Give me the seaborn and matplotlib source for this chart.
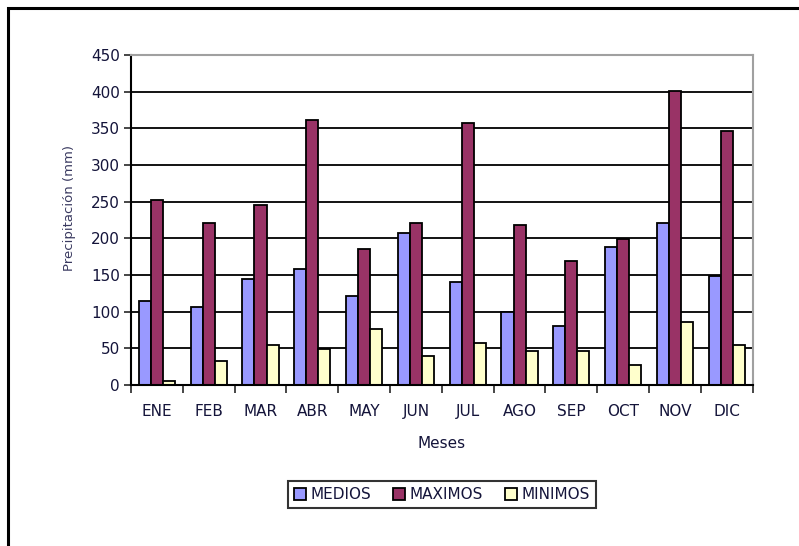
import pandas as pd
import numpy as np
import matplotlib
matplotlib.use("Agg")
import matplotlib.pyplot as plt
from matplotlib.patches import Rectangle
import seaborn as sns

MESES = ["ENE", "FEB", "MAR", "ABR", "MAY", "JUN", "JUL", "AGO", "SEP", "OCT", "NOV", "DIC"]
MEDIOS = [114, 106, 144, 158, 122, 207, 141, 100, 81, 188, 221, 148]
MAXIMOS = [253, 221, 245, 362, 185, 221, 357, 218, 169, 199, 401, 347]
MINIMOS = [5, 32, 54, 49, 76, 40, 57, 46, 46, 27, 86, 54]

SERIES = ["MEDIOS", "MAXIMOS", "MINIMOS"]
COLORES = ["#9999FF", "#993366", "#FFFFCC"]
TXT = "#14143a"

df = pd.DataFrame({
    "mes": MESES * 3,
    "valor": MEDIOS + MAXIMOS + MINIMOS,
    "serie": [s for s in SERIES for _ in MESES],
})

sns.set_style("white")
plt.rcParams["font.family"] = ["DejaVu Sans"]

fig = plt.figure(figsize=(7.99, 5.46), dpi=100)
ax = fig.add_axes([0.164, 0.295, 0.778, 0.604])

# grid first so bars sit on top
for y in range(50, 450, 50):
    ax.axhline(y, color="black", linewidth=1.3, zorder=0)

sns.barplot(data=df, x="mes", y="valor", hue="serie", palette=COLORES,
            edgecolor="black", linewidth=1.3, width=0.7, saturation=1,
            ax=ax, zorder=2)

ax.set_ylim(0, 450)
ax.set_xlim(-0.5, 11.5)
ax.set_yticks(range(0, 451, 50))
ax.tick_params(axis="y", direction="out", length=5, width=1.2, left=True,
               labelsize=11, pad=3, labelcolor=TXT)
ax.set_xticks(range(12))
ax.set_xticks(np.arange(-0.5, 12, 1), minor=True)
ax.tick_params(axis="x", which="major", length=0, labelsize=11, pad=14,
               labelcolor=TXT)
ax.tick_params(axis="x", which="minor", direction="out", length=6, width=1.2,
               bottom=True)

for side in ["left", "bottom"]:
    ax.spines[side].set_color("black")
    ax.spines[side].set_linewidth(1.5)
for side in ["top", "right"]:
    ax.spines[side].set_color("#a0a0a0")
    ax.spines[side].set_linewidth(1.5)

ax.set_xlabel("Meses", fontsize=11, color=TXT, labelpad=12)
ax.set_ylabel("Precipitación (mm)", fontsize=9.5, color="#3a3a60")
ax.yaxis.set_label_coords(-0.088, 0.535)

handles, labels = ax.get_legend_handles_labels()
ax.legend_.remove()
leg = fig.legend(handles, labels, loc="center", bbox_to_anchor=(0.553, 0.094),
                 ncol=3, frameon=True, fancybox=False, fontsize=11,
                 handlelength=0.8, handleheight=0.8, handletextpad=0.3,
                 columnspacing=1.4, borderpad=0.4, edgecolor="black")
leg.get_frame().set_linewidth(1.5)
for t in leg.get_texts():
    t.set_color(TXT)

# outer chart frame
fig.patches.append(Rectangle((8 / 799, -0.05), 1.1, 1 - 8 / 546 + 0.05,
                             transform=fig.transFigure, fill=False,
                             edgecolor="black", linewidth=2.2, clip_on=False))

fig.savefig("out.png", dpi=100)
